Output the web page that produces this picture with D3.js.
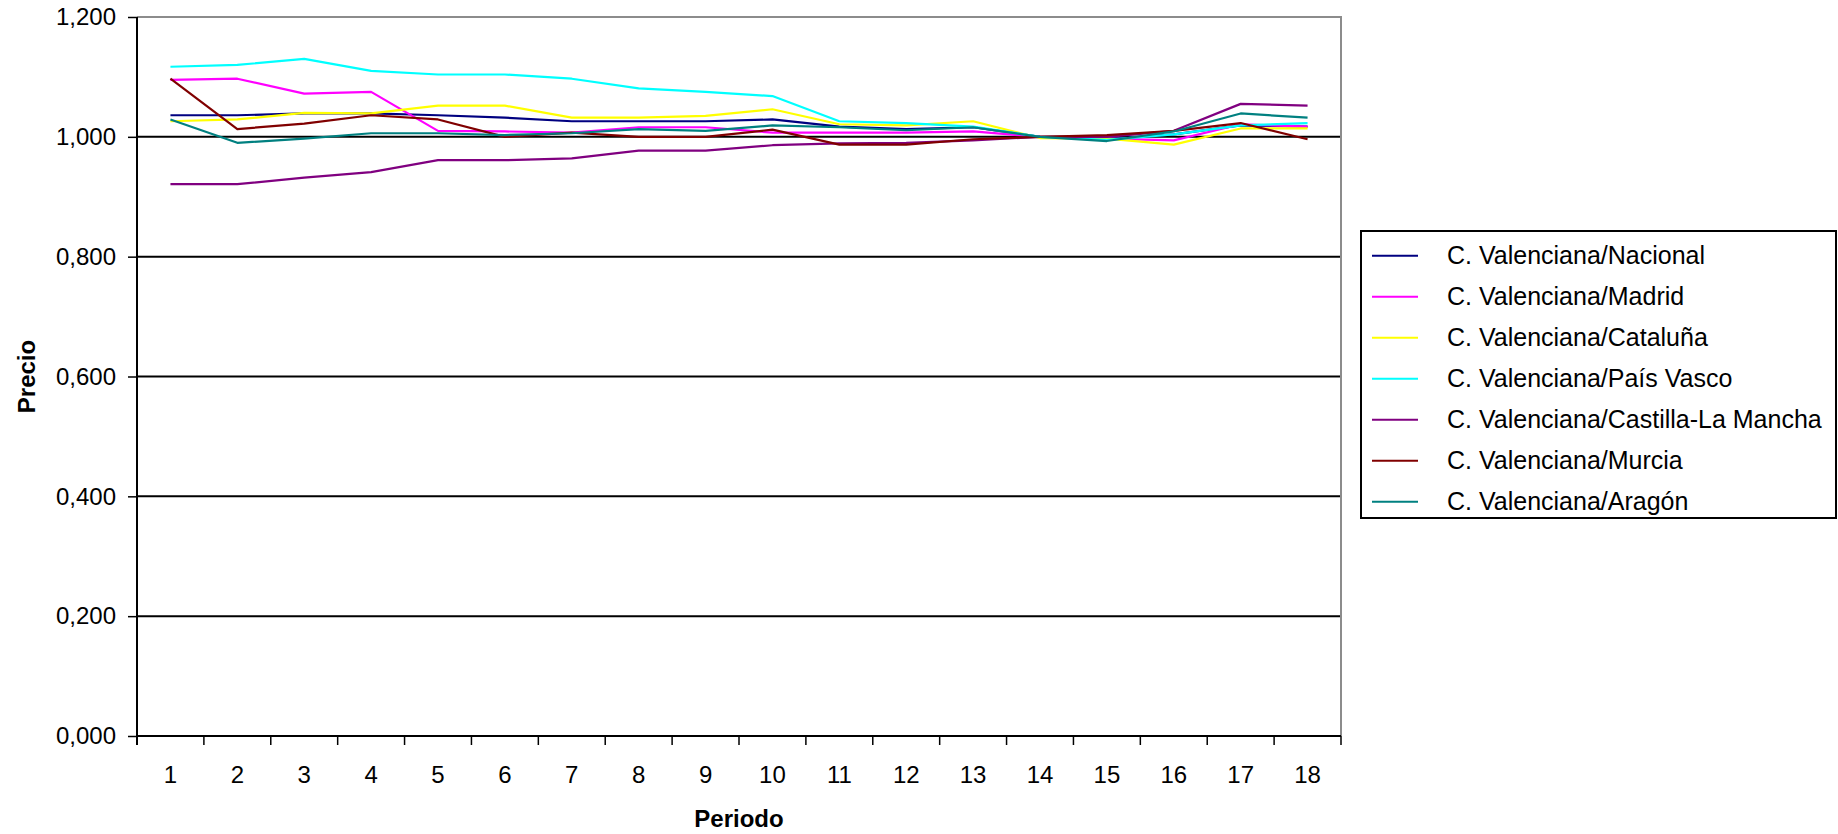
<!DOCTYPE html>
<html>
<head>
<meta charset="utf-8">
<script src="https://cdn.jsdelivr.net/npm/d3@7/dist/d3.min.js"></script>
<style>
  html, body { margin: 0; padding: 0; background: #fff; }
  svg { display: block; font-family: Arial, "Liberation Sans", sans-serif; }
</style>
</head>
<body>
<svg id="chart" width="1838" height="834"></svg>
<script>
const periods = ["1","2","3","4","5","6","7","8","9","10","11","12","13","14","15","16","17","18"];
const yTicks = [0, 0.2, 0.4, 0.6, 0.8, 1.0, 1.2];

const seriesNames = [
  "C. Valenciana/Nacional",
  "C. Valenciana/Madrid",
  "C. Valenciana/Cataluña",
  "C. Valenciana/País Vasco",
  "C. Valenciana/Castilla-La Mancha",
  "C. Valenciana/Murcia",
  "C. Valenciana/Aragón"
];
const seriesColors = ["#000080", "#FF00FF", "#FFFF00", "#00FFFF", "#800080", "#800000", "#008080"];

const nacional  = [1.036,1.036,1.039,1.039,1.036,1.032,1.026,1.026,1.026,1.029,1.017,1.013,1.016,1.000,0.996,1.004,1.019,1.017];
const madrid    = [1.095,1.097,1.072,1.075,1.010,1.009,1.007,1.016,1.016,1.007,1.007,1.007,1.009,1.000,0.997,0.994,1.021,1.017];
const cataluna  = [1.026,1.029,1.040,1.039,1.052,1.052,1.032,1.032,1.035,1.046,1.021,1.019,1.026,0.998,0.997,0.987,1.014,1.014];
const paisVasco = [1.117,1.120,1.130,1.110,1.104,1.104,1.097,1.081,1.075,1.068,1.026,1.023,1.017,1.000,0.995,1.004,1.019,1.023];
const castilla  = [0.921,0.921,0.932,0.941,0.961,0.961,0.964,0.977,0.977,0.986,0.989,0.990,0.994,1.000,1.000,1.010,1.055,1.052];
const murcia    = [1.097,1.013,1.022,1.036,1.029,1.000,1.007,1.000,1.000,1.012,0.987,0.987,0.996,1.000,1.003,1.010,1.023,0.996];
const aragon    = [1.029,0.990,0.997,1.006,1.006,1.003,1.006,1.013,1.010,1.019,1.016,1.011,1.016,1.000,0.993,1.009,1.039,1.032];

const seriesValues = [nacional, madrid, cataluna, paisVasco, castilla, murcia, aragon];

const svg = d3.select("#chart");
const pLeft = 137, pRight = 1341, pTop = 17, pBottom = 736;

const x = d3.scaleBand().domain(periods).range([pLeft, pRight]);
const y = d3.scaleLinear().domain([0, 1.2]).range([pBottom, pTop]);

const loc = d3.formatLocale({decimal: ",", thousands: ".", grouping: [3], currency: ["", "€"]});
const fmt = loc.format(".3f");

// gridlines
svg.append("g").selectAll("line")
  .data(yTicks.filter(t => t > 0 && t < 1.2))
  .join("line")
  .attr("x1", pLeft).attr("x2", pRight)
  .attr("y1", d => y(d)).attr("y2", d => y(d))
  .attr("stroke", "#000").attr("stroke-width", 2);

// plot border top/right (gray)
svg.append("path")
  .attr("d", `M${pLeft},${y(1.2)}H${pRight}V${pBottom}`)
  .attr("fill", "none").attr("stroke", "#8c8c8c").attr("stroke-width", 2);

// y axis
const yAxis = d3.axisLeft(y).tickValues(yTicks).tickFormat(fmt).tickSize(9).tickPadding(12);
const gy = svg.append("g").attr("transform", `translate(${pLeft},0)`).call(yAxis);
gy.select(".domain").attr("stroke", "#000").attr("stroke-width", 2).attr("d", `M0,${pTop}V${pBottom + 9}`);
gy.selectAll(".tick line").attr("stroke", "#000").attr("stroke-width", 1.5);
gy.selectAll(".tick text").attr("font-size", 24).attr("fill", "#000")
  .attr("font-family", "Arial, 'Liberation Sans', sans-serif");

// x axis
const xAxis = d3.axisBottom(x).tickSize(0).tickPadding(30);
const gx = svg.append("g").attr("transform", `translate(0,${pBottom})`).call(xAxis);
gx.select(".domain").attr("stroke", "#000").attr("stroke-width", 2).attr("d", `M${pLeft},0H${pRight}`);
gx.selectAll(".tick text").attr("font-size", 24).attr("fill", "#000")
  .attr("font-family", "Arial, 'Liberation Sans', sans-serif");
// category boundary ticks
const bounds = periods.map(p => x(p)).concat([x(periods[periods.length - 1]) + x.bandwidth()]);
gx.append("g").selectAll("line").data(bounds).join("line")
  .attr("x1", d => d).attr("x2", d => d).attr("y1", 0).attr("y2", 9)
  .attr("stroke", "#000").attr("stroke-width", 1.5);

// lines
const line = d3.line()
  .x((d, i) => x(periods[i]) + x.bandwidth() / 2)
  .y(d => y(d));

svg.append("g").selectAll("path")
  .data(seriesValues)
  .join("path")
  .attr("d", d => line(d))
  .attr("fill", "none")
  .attr("stroke", (d, i) => seriesColors[i])
  .attr("stroke-width", 2.2)
  .attr("stroke-linejoin", "round");

// axis titles
svg.append("text")
  .attr("x", (pLeft + pRight) / 2).attr("y", 827)
  .attr("text-anchor", "middle")
  .attr("font-size", 24).attr("font-weight", "bold")
  .text("Periodo");

svg.append("text")
  .attr("transform", `translate(35,${(pTop + pBottom) / 2}) rotate(-90)`)
  .attr("text-anchor", "middle")
  .attr("font-size", 24).attr("font-weight", "bold")
  .text("Precio");

// legend
const lg = svg.append("g");
lg.append("rect")
  .attr("x", 1361).attr("y", 231).attr("width", 475).attr("height", 287)
  .attr("fill", "#fff").attr("stroke", "#000").attr("stroke-width", 2);
const items = lg.selectAll("g.item").data(seriesNames).join("g")
  .attr("class", "item")
  .attr("transform", (d, i) => `translate(0,${255.7 + i * 41})`);
items.append("line")
  .attr("x1", 1372).attr("x2", 1418).attr("y1", 0).attr("y2", 0)
  .attr("stroke", (d, i) => seriesColors[i]).attr("stroke-width", 2);
items.append("text")
  .attr("x", 1447).attr("y", 0).attr("dy", "0.35em")
  .attr("font-size", 25).attr("fill", "#000")
  .text(d => d);
</script>
</body>
</html>
